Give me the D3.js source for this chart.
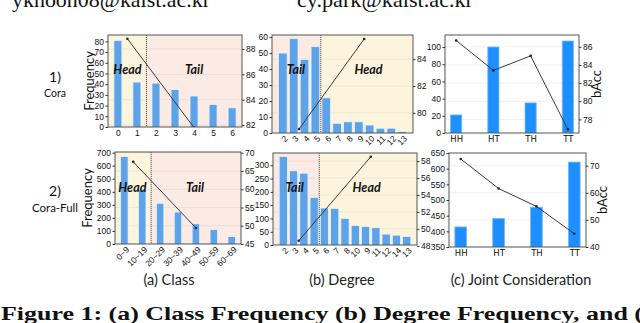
<!DOCTYPE html>
<html><head><meta charset="utf-8">
<script src="https://cdn.jsdelivr.net/npm/d3@7"></script>
<style>body{margin:0;background:#fff}svg{display:block}</style>
</head><body>
<svg id="chart" width="640" height="323"></svg>
<script>
// ---------------- DATA ----------------
const coraClassCats = ["0","1","2","3","4","5","6"];
const coraClassFreq = [81, 42, 41, 35, 29, 21, 18];
const coraClassAccPos = [0.5, 4];
const coraClassAcc = [88.8, 81.8];
const coraClassLeftTicks = [0,10,20,30,40,50,60,70,80];
const coraClassRightTicks = [82,84,86,88];

const coraDegreeCats = ["2","3","4","5","6","7","8","9","10","11","12","13"];
const coraDegreeFreq = [50, 59, 46, 54, 22, 6, 7, 7, 5, 3, 3, 1];
const coraDegreeAccPos = [1.5, 7.5];
const coraDegreeAcc = [78.8, 85.5];
const coraDegreeLeftTicks = [0,10,20,30,40,50,60];
const coraDegreeRightTicks = [80,82,84];

const jointCats = ["HH","HT","TH","TT"];
const coraJointFreq = [21, 100, 35, 107];
const coraJointAcc = [86.7, 83.4, 85.0, 76.9];
const coraJointLeftTicks = [0,20,40,60,80,100];
const coraJointRightTicks = [78,80,82,84,86];

const fullClassCats = ["0~9","10~19","20~29","30~39","40~49","50~59","60~69"];
const fullClassFreq = [670, 415, 312, 245, 155, 110, 58];
const fullClassAccPos = [0.5, 4];
const fullClassAcc = [67.5, 49.4];
const fullClassLeftTicks = [0,100,200,300,400,500,600,700];
const fullClassRightTicks = [45,50,55,60,65,70];

const fullDegreeCats = ["2","3","4","5","6","7","8","10","9","11","12","14","13"];
const fullDegreeFreq = [333, 279, 270, 179, 139, 137, 100, 73, 70, 65, 41, 37, 32];
const fullDegreeAccPos = [1.5, 8.5];
const fullDegreeAcc = [48.6, 58.5];
const fullDegreeLeftTicks = [0,50,100,150,200,250,300];
const fullDegreeRightTicks = [48,50,52,54,56,58];

const fullJointFreq = [414, 441, 477, 621];
const fullJointAcc = [72.5, 61.6, 55.0, 44.9];
const fullJointLeftTicks = [350,400,450,500,550,600,650];
const fullJointRightTicks = [40,50,60,70];

// ---------------- DRAW ----------------
const svg = d3.select("#chart");
const TICKFONT = "'Liberation Sans Narrow','Liberation Sans',sans-serif";
const LABFONT = "Lato,'Open Sans',sans-serif";
const HEADC = "#fdf4de", TAILC = "#fcebe4";
let clipId = 0;

function panel(o) {
  const n = o.cats.length;
  const x = d3.scaleLinear().domain(o.xdom).range([o.left, o.right]);
  const yL = d3.scaleLinear().domain(o.ldom).range([o.bottom, o.top]);
  const yR = d3.scaleLinear().domain(o.rdom).range([o.bottom, o.top]);
  const g = svg.append("g");
  const cid = "clip" + (clipId++);
  g.append("clipPath").attr("id", cid).append("rect")
    .attr("x", o.left).attr("y", o.top).attr("width", o.right - o.left).attr("height", o.bottom - o.top);
  const inner = g.append("g").attr("clip-path", `url(#${cid})`);

  if (o.split !== undefined) {
    inner.append("rect").attr("x", x(o.xdom[0])).attr("y", o.top)
      .attr("width", x(o.split) - x(o.xdom[0])).attr("height", o.bottom - o.top)
      .attr("fill", o.firstHead ? HEADC : TAILC);
    inner.append("rect").attr("x", x(o.split)).attr("y", o.top)
      .attr("width", x(o.xdom[1]) - x(o.split)).attr("height", o.bottom - o.top)
      .attr("fill", o.firstHead ? TAILC : HEADC);
  }
  // faint grid at right ticks
  inner.selectAll("line.grid").data(o.rticks).join("line")
    .attr("x1", o.left).attr("x2", o.right)
    .attr("y1", d => yR(d)).attr("y2", d => yR(d))
    .attr("stroke", "#000").attr("stroke-opacity", 0.06).attr("stroke-width", 1);

  const bw = (x(1) - x(0)) * o.bw;
  inner.selectAll("rect.bar").data(o.freq).join("rect")
    .attr("x", (d, i) => x(i) - bw / 2)
    .attr("width", bw)
    .attr("y", d => yL(d))
    .attr("height", d => yL(o.ldom[0]) - yL(d) + 2)
    .attr("fill", o.barFill).attr("stroke", o.barStroke).attr("stroke-width", 0.8);

  if (o.split !== undefined) {
    inner.append("line").attr("x1", x(o.split)).attr("x2", x(o.split))
      .attr("y1", o.top).attr("y2", o.bottom)
      .attr("stroke", "#444").attr("stroke-width", 0.9).attr("stroke-dasharray", "1.2,0.8");
  }
  const pts = o.acc.map((v, i) => [x(o.accPos[i]), yR(v)]);
  inner.append("path").attr("d", d3.line()(pts))
    .attr("fill", "none").attr("stroke", "#3a3a3a").attr("stroke-width", 1);
  inner.selectAll("circle").data(pts).join("circle")
    .attr("cx", d => d[0]).attr("cy", d => d[1]).attr("r", 1.3).attr("fill", "#222");

  // frame
  g.append("rect").attr("x", o.left).attr("y", o.top)
    .attr("width", o.right - o.left).attr("height", o.bottom - o.top)
    .attr("fill", "none").attr("stroke", "#555").attr("stroke-width", 1);

  // axes
  const la = g.append("g").attr("transform", `translate(${o.left},0)`)
    .call(d3.axisLeft(yL).tickValues(o.lticks).tickSize(2.5).tickPadding(1.5).tickSizeOuter(0));
  const ra = g.append("g").attr("transform", `translate(${o.right},0)`)
    .call(d3.axisRight(yR).tickValues(o.rticks).tickSize(2.5).tickPadding(1.5).tickSizeOuter(0));
  const xa = g.append("g").attr("transform", `translate(0,${o.bottom})`)
    .call(d3.axisBottom(x).tickValues(d3.range(n)).tickFormat(i => o.cats[i]).tickSize(0).tickPadding(o.xpad));
  [la, ra, xa].forEach(a => {
    a.select(".domain").remove();
    a.selectAll("text").attr("font-family", TICKFONT).attr("font-size", 8.5).attr("fill", "#111");
    a.selectAll("line").attr("stroke", "#333");
  });
  if (o.rotate) {
    xa.selectAll("text").attr("text-anchor", "end")
      .attr("transform", "rotate(-45)").attr("dy", "0.5em").attr("dx", "-0.1em")
      .each(function () {
        const t = d3.select(this.parentNode);
      });
    xa.selectAll(".tick text").attr("y", 2).attr("x", 0)
      .attr("transform", "rotate(-45)").attr("dy", "0.7em");
  }
  if (o.xbold) xa.selectAll("text").attr("font-family", "'DejaVu Sans',sans-serif").attr("font-size", 8.5);

  if (o.labels) {
    o.labels.forEach(l => {
      g.append("text").attr("x", x(l.pos)).attr("y", l.y)
        .attr("text-anchor", "middle").attr("font-family", LABFONT)
        .attr("font-weight", 700).attr("font-style", "italic").attr("font-size", 12.5)
        .attr("fill", "#111").text(l.text);
    });
  }
  if (o.ylab) {
    g.append("text").attr("transform", `translate(${o.ylab.x},${(o.top + o.bottom) / 2}) rotate(-90)`)
      .attr("text-anchor", "middle").attr("font-family", LABFONT).attr("font-size", 13)
      .attr("fill", "#111").text(o.ylab.text);
  }
  if (o.rlab) {
    g.append("text").attr("transform", `translate(${o.rlab.x},${(o.top + o.bottom) / 2}) rotate(-90)`)
      .attr("text-anchor", "middle").attr("font-family", LABFONT).attr("font-size", 13)
      .attr("fill", "#111").text(o.rlab.text);
  }
}

const lightBar = "#5ea2e7", lightEdge = "#eaf3fc";
const strongBar = "#1e8fff", strongEdge = "#74b8ff";

// Row 1
panel({cats: coraClassCats, freq: coraClassFreq, acc: coraClassAcc, accPos: coraClassAccPos,
  left: 108, right: 242, top: 35, bottom: 127, xdom: [-0.52, 6.52], bw: 0.42,
  ldom: [0, 86], rdom: [81.85, 89.1], lticks: coraClassLeftTicks, rticks: coraClassRightTicks,
  split: 1.5, firstHead: true, barFill: lightBar, barStroke: lightEdge, xpad: 3,
  labels: [{pos: 0.5, y: 74, text: "Head"}, {pos: 4, y: 74, text: "Tail"}],
  ylab: {x: 94, text: "Frequency"}});

panel({cats: coraDegreeCats, freq: coraDegreeFreq, acc: coraDegreeAcc, accPos: coraDegreeAccPos,
  left: 272, right: 413, top: 35, bottom: 133, xdom: [-1.0, 12.0], bw: 0.8,
  ldom: [0, 61.3], rdom: [78.5, 85.8], lticks: coraDegreeLeftTicks, rticks: coraDegreeRightTicks,
  split: 3.5, firstHead: false, barFill: lightBar, barStroke: lightEdge, xpad: 2, rotate: true,
  labels: [{pos: 1.2, y: 74, text: "Tail"}, {pos: 7.9, y: 74, text: "Head"}]});

panel({cats: jointCats, freq: coraJointFreq, acc: coraJointAcc, accPos: [0, 1, 2, 3],
  left: 445, right: 579, top: 35, bottom: 133, xdom: [-0.3, 3.3], bw: 0.3,
  ldom: [0, 114], rdom: [76.5, 87.3], lticks: coraJointLeftTicks, rticks: coraJointRightTicks,
  barFill: strongBar, barStroke: strongEdge, xpad: 3, xbold: true,
  rlab: {x: 601, text: "bAcc"}});

// Row 2
panel({cats: fullClassCats, freq: fullClassFreq, acc: fullClassAcc, accPos: fullClassAccPos,
  left: 115, right: 241, top: 152, bottom: 244, xdom: [-0.52, 6.52], bw: 0.42,
  ldom: [0, 705], rdom: [45, 70.2], lticks: fullClassLeftTicks, rticks: fullClassRightTicks,
  split: 1.5, firstHead: true, barFill: lightBar, barStroke: lightEdge, xpad: 2, rotate: true,
  labels: [{pos: 0.45, y: 192, text: "Head"}, {pos: 3.95, y: 192, text: "Tail"}],
  ylab: {x: 92, text: "Frequency"}});

panel({cats: fullDegreeCats, freq: fullDegreeFreq, acc: fullDegreeAcc, accPos: fullDegreeAccPos,
  left: 273, right: 417, top: 153, bottom: 245, xdom: [-1.0, 13.0], bw: 0.8,
  ldom: [0, 346], rdom: [48.1, 58.95], lticks: fullDegreeLeftTicks, rticks: fullDegreeRightTicks,
  split: 3.5, firstHead: false, barFill: lightBar, barStroke: lightEdge, xpad: 2, rotate: true,
  labels: [{pos: 1.1, y: 192, text: "Tail"}, {pos: 8.1, y: 192, text: "Head"}]});

panel({cats: jointCats, freq: fullJointFreq, acc: fullJointAcc, accPos: [0, 1, 2, 3],
  left: 449, right: 586, top: 153, bottom: 247, xdom: [-0.31, 3.31], bw: 0.31,
  ldom: [350, 650], rdom: [40, 74.7], lticks: fullJointLeftTicks, rticks: fullJointRightTicks,
  barFill: strongBar, barStroke: strongEdge, xpad: 3, xbold: true,
  rlab: {x: 607, text: "bAcc"}});

// Row labels
const rowLab = [["1)", "Cora", 82, 97], ["2)", "Cora-Full", 196, 212]];
rowLab.forEach(r => {
  svg.append("text").attr("x", 55).attr("y", r[2]).attr("text-anchor", "middle")
    .attr("font-family", LABFONT).attr("font-size", 14).attr("fill", "#111").text(r[0]);
  svg.append("text").attr("x", 55).attr("y", r[3]).attr("text-anchor", "middle")
    .attr("font-family", LABFONT).attr("font-size", r[1] === "Cora" ? 10.5 : 11.5).attr("fill", "#111").text(r[1]);
});

// Sub captions
[["(a) Class", 169], ["(b) Degree", 342], ["(c) Joint Consideration", 521]].forEach(s => {
  svg.append("text").attr("x", s[1]).attr("y", 285).attr("text-anchor", "middle")
    .attr("font-family", LABFONT).attr("font-size", 14.5).attr("fill", "#222").text(s[0]);
});

// Header emails (cut at top)
svg.append("text").attr("x", 12).attr("y", 7).attr("font-family", "'Liberation Serif',serif")
  .attr("font-size", 21).attr("textLength", 198).attr("lengthAdjust", "spacingAndGlyphs")
  .attr("fill", "#111").text("ykhoon08@kaist.ac.kr");
svg.append("text").attr("x", 297).attr("y", 7).attr("font-family", "'Liberation Serif',serif")
  .attr("font-size", 21).attr("textLength", 176).attr("lengthAdjust", "spacingAndGlyphs")
  .attr("fill", "#111").text("cy.park@kaist.ac.kr");

// Figure caption
svg.append("text").attr("x", 1).attr("y", 319.5).attr("font-family", "'Liberation Serif',serif")
  .attr("font-weight", 700).attr("font-size", 19).attr("textLength", 642).attr("lengthAdjust", "spacingAndGlyphs")
  .attr("fill", "#111").text("Figure 1: (a) Class Frequency (b) Degree Frequency, and (");
</script>
</body></html>
